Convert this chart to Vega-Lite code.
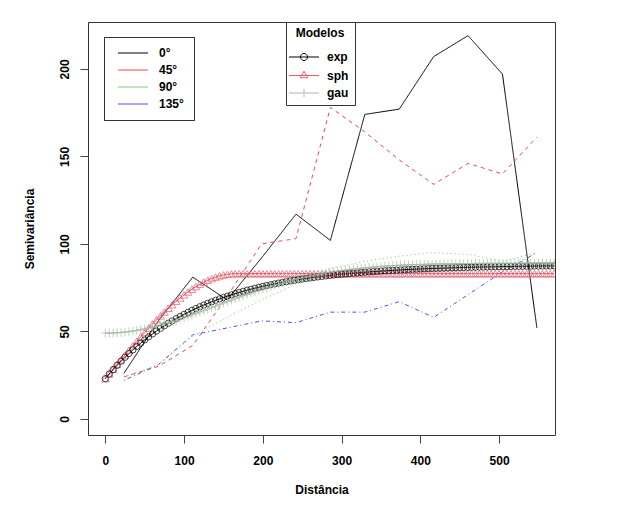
{
"$schema":"https://vega.github.io/schema/vega-lite/v6.json",
"width":467,"height":413,
"autosize":{"type":"none"},
"padding":{"left":88,"top":22,"right":65,"bottom":82},
"background":"white",
"config":{
 "view":{"stroke":"#333","strokeWidth":1},
 "font":"Liberation Sans",
 "axis":{"grid":false,"domain":false,"ticks":true,"tickColor":"#444","tickSize":8,"labelFont":"Liberation Sans","labelFontSize":12,"labelFontWeight":"bold","labelColor":"#000","titleFont":"Liberation Sans","titleFontSize":12,"titleFontWeight":"bold","titleColor":"#000"},
 "legend":{"labelFont":"Liberation Sans","labelFontSize":12,"labelFontWeight":"bold","labelColor":"#000","titleFont":"Liberation Sans","titleFontSize":12,"titleFontWeight":"bold","titleColor":"#000"}
},
"datasets":{
"dirs":[
{"dir":"0°","d":23.6,"g":26},{"dir":"0°","d":67.3,"g":56},{"dir":"0°","d":111.0,"g":81},{"dir":"0°","d":154.7,"g":68},{"dir":"0°","d":198.4,"g":92},{"dir":"0°","d":242.1,"g":117},{"dir":"0°","d":285.8,"g":102},{"dir":"0°","d":329.5,"g":174},{"dir":"0°","d":373.2,"g":177},{"dir":"0°","d":416.9,"g":207},{"dir":"0°","d":460.6,"g":219},{"dir":"0°","d":504.3,"g":197},{"dir":"0°","d":548.0,"g":52},
{"dir":"45°","d":23.6,"g":24},{"dir":"45°","d":67.3,"g":30},{"dir":"45°","d":111.0,"g":42},{"dir":"45°","d":154.7,"g":70},{"dir":"45°","d":198.4,"g":100},{"dir":"45°","d":242.1,"g":103},{"dir":"45°","d":285.8,"g":178},{"dir":"45°","d":329.5,"g":164},{"dir":"45°","d":373.2,"g":148},{"dir":"45°","d":416.9,"g":134},{"dir":"45°","d":460.6,"g":146},{"dir":"45°","d":504.3,"g":140},{"dir":"45°","d":548.0,"g":161},
{"dir":"90°","d":23.6,"g":24},{"dir":"90°","d":67.3,"g":31},{"dir":"90°","d":111.0,"g":47},{"dir":"90°","d":154.7,"g":58},{"dir":"90°","d":198.4,"g":68},{"dir":"90°","d":242.1,"g":77},{"dir":"90°","d":285.8,"g":86},{"dir":"90°","d":329.5,"g":90},{"dir":"90°","d":373.2,"g":93},{"dir":"90°","d":416.9,"g":95},{"dir":"90°","d":460.6,"g":94},{"dir":"90°","d":504.3,"g":90},{"dir":"90°","d":548.0,"g":95},
{"dir":"135°","d":23.6,"g":22},{"dir":"135°","d":67.3,"g":31},{"dir":"135°","d":111.0,"g":48},{"dir":"135°","d":154.7,"g":52},{"dir":"135°","d":198.4,"g":56},{"dir":"135°","d":242.1,"g":55},{"dir":"135°","d":285.8,"g":61},{"dir":"135°","d":329.5,"g":61},{"dir":"135°","d":373.2,"g":67},{"dir":"135°","d":416.9,"g":58},{"dir":"135°","d":460.6,"g":71},{"dir":"135°","d":504.3,"g":84},{"dir":"135°","d":548.0,"g":95}
],
"models":[
{"m":"sph","d":0,"g":23},{"m":"sph","d":5,"g":25.73},{"m":"sph","d":10,"g":28.45},{"m":"sph","d":15,"g":31.16},{"m":"sph","d":20,"g":33.86},{"m":"sph","d":25,"g":36.53},{"m":"sph","d":30,"g":39.18},{"m":"sph","d":35,"g":41.8},{"m":"sph","d":40,"g":44.39},{"m":"sph","d":45,"g":46.94},{"m":"sph","d":50,"g":49.44},{"m":"sph","d":55,"g":51.89},{"m":"sph","d":60,"g":54.28},{"m":"sph","d":65,"g":56.62},{"m":"sph","d":70,"g":58.89},{"m":"sph","d":75,"g":61.09},{"m":"sph","d":80,"g":63.22},{"m":"sph","d":85,"g":65.26},{"m":"sph","d":90,"g":67.22},{"m":"sph","d":95,"g":69.09},{"m":"sph","d":100,"g":70.87},{"m":"sph","d":105,"g":72.54},{"m":"sph","d":110,"g":74.11},{"m":"sph","d":115,"g":75.57},{"m":"sph","d":120,"g":76.91},{"m":"sph","d":125,"g":78.14},{"m":"sph","d":130,"g":79.24},{"m":"sph","d":135,"g":80.2},{"m":"sph","d":140,"g":81.04},{"m":"sph","d":145,"g":81.73},{"m":"sph","d":150,"g":82.28},{"m":"sph","d":155,"g":82.68},{"m":"sph","d":160,"g":82.92},{"m":"sph","d":165,"g":83},{"m":"sph","d":170,"g":83},{"m":"sph","d":175,"g":83},{"m":"sph","d":180,"g":83},{"m":"sph","d":185,"g":83},{"m":"sph","d":190,"g":83},{"m":"sph","d":195,"g":83},{"m":"sph","d":200,"g":83},{"m":"sph","d":205,"g":83},{"m":"sph","d":210,"g":83},{"m":"sph","d":215,"g":83},{"m":"sph","d":220,"g":83},{"m":"sph","d":225,"g":83},{"m":"sph","d":230,"g":83},{"m":"sph","d":235,"g":83},{"m":"sph","d":240,"g":83},{"m":"sph","d":245,"g":83},{"m":"sph","d":250,"g":83},{"m":"sph","d":255,"g":83},{"m":"sph","d":260,"g":83},{"m":"sph","d":265,"g":83},{"m":"sph","d":270,"g":83},{"m":"sph","d":275,"g":83},{"m":"sph","d":280,"g":83},{"m":"sph","d":285,"g":83},{"m":"sph","d":290,"g":83},{"m":"sph","d":295,"g":83},{"m":"sph","d":300,"g":83},{"m":"sph","d":305,"g":83},{"m":"sph","d":310,"g":83},{"m":"sph","d":315,"g":83},{"m":"sph","d":320,"g":83},{"m":"sph","d":325,"g":83},{"m":"sph","d":330,"g":83},{"m":"sph","d":335,"g":83},{"m":"sph","d":340,"g":83},{"m":"sph","d":345,"g":83},{"m":"sph","d":350,"g":83},{"m":"sph","d":355,"g":83},{"m":"sph","d":360,"g":83},{"m":"sph","d":365,"g":83},{"m":"sph","d":370,"g":83},{"m":"sph","d":375,"g":83},{"m":"sph","d":380,"g":83},{"m":"sph","d":385,"g":83},{"m":"sph","d":390,"g":83},{"m":"sph","d":395,"g":83},{"m":"sph","d":400,"g":83},{"m":"sph","d":405,"g":83},{"m":"sph","d":410,"g":83},{"m":"sph","d":415,"g":83},{"m":"sph","d":420,"g":83},{"m":"sph","d":425,"g":83},{"m":"sph","d":430,"g":83},{"m":"sph","d":435,"g":83},{"m":"sph","d":440,"g":83},{"m":"sph","d":445,"g":83},{"m":"sph","d":450,"g":83},{"m":"sph","d":455,"g":83},{"m":"sph","d":460,"g":83},{"m":"sph","d":465,"g":83},{"m":"sph","d":470,"g":83},{"m":"sph","d":475,"g":83},{"m":"sph","d":480,"g":83},{"m":"sph","d":485,"g":83},{"m":"sph","d":490,"g":83},{"m":"sph","d":495,"g":83},{"m":"sph","d":500,"g":83},{"m":"sph","d":505,"g":83},{"m":"sph","d":510,"g":83},{"m":"sph","d":515,"g":83},{"m":"sph","d":520,"g":83},{"m":"sph","d":525,"g":83},{"m":"sph","d":530,"g":83},{"m":"sph","d":535,"g":83},{"m":"sph","d":540,"g":83},{"m":"sph","d":545,"g":83},{"m":"sph","d":550,"g":83},{"m":"sph","d":555,"g":83},{"m":"sph","d":560,"g":83},{"m":"sph","d":565,"g":83},{"m":"sph","d":570,"g":83},
{"m":"exp","d":0,"g":23},{"m":"exp","d":5,"g":25.65},{"m":"exp","d":10,"g":28.2},{"m":"exp","d":15,"g":30.64},{"m":"exp","d":20,"g":32.98},{"m":"exp","d":25,"g":35.23},{"m":"exp","d":30,"g":37.38},{"m":"exp","d":35,"g":39.44},{"m":"exp","d":40,"g":41.43},{"m":"exp","d":45,"g":43.33},{"m":"exp","d":50,"g":45.15},{"m":"exp","d":55,"g":46.9},{"m":"exp","d":60,"g":48.58},{"m":"exp","d":65,"g":50.18},{"m":"exp","d":70,"g":51.73},{"m":"exp","d":75,"g":53.21},{"m":"exp","d":80,"g":54.63},{"m":"exp","d":85,"g":55.99},{"m":"exp","d":90,"g":57.29},{"m":"exp","d":95,"g":58.55},{"m":"exp","d":100,"g":59.75},{"m":"exp","d":105,"g":60.9},{"m":"exp","d":110,"g":62.01},{"m":"exp","d":115,"g":63.07},{"m":"exp","d":120,"g":64.09},{"m":"exp","d":125,"g":65.06},{"m":"exp","d":130,"g":66},{"m":"exp","d":135,"g":66.89},{"m":"exp","d":140,"g":67.76},{"m":"exp","d":145,"g":68.58},{"m":"exp","d":150,"g":69.38},{"m":"exp","d":155,"g":70.14},{"m":"exp","d":160,"g":70.87},{"m":"exp","d":165,"g":71.57},{"m":"exp","d":170,"g":72.24},{"m":"exp","d":175,"g":72.88},{"m":"exp","d":180,"g":73.5},{"m":"exp","d":185,"g":74.09},{"m":"exp","d":190,"g":74.66},{"m":"exp","d":195,"g":75.2},{"m":"exp","d":200,"g":75.72},{"m":"exp","d":205,"g":76.22},{"m":"exp","d":210,"g":76.7},{"m":"exp","d":215,"g":77.16},{"m":"exp","d":220,"g":77.61},{"m":"exp","d":225,"g":78.03},{"m":"exp","d":230,"g":78.44},{"m":"exp","d":235,"g":78.83},{"m":"exp","d":240,"g":79.2},{"m":"exp","d":245,"g":79.56},{"m":"exp","d":250,"g":79.91},{"m":"exp","d":255,"g":80.24},{"m":"exp","d":260,"g":80.55},{"m":"exp","d":265,"g":80.86},{"m":"exp","d":270,"g":81.15},{"m":"exp","d":275,"g":81.43},{"m":"exp","d":280,"g":81.7},{"m":"exp","d":285,"g":81.95},{"m":"exp","d":290,"g":82.2},{"m":"exp","d":295,"g":82.44},{"m":"exp","d":300,"g":82.66},{"m":"exp","d":305,"g":82.88},{"m":"exp","d":310,"g":83.09},{"m":"exp","d":315,"g":83.29},{"m":"exp","d":320,"g":83.48},{"m":"exp","d":325,"g":83.67},{"m":"exp","d":330,"g":83.85},{"m":"exp","d":335,"g":84.02},{"m":"exp","d":340,"g":84.18},{"m":"exp","d":345,"g":84.33},{"m":"exp","d":350,"g":84.48},{"m":"exp","d":355,"g":84.63},{"m":"exp","d":360,"g":84.76},{"m":"exp","d":365,"g":84.89},{"m":"exp","d":370,"g":85.02},{"m":"exp","d":375,"g":85.15},{"m":"exp","d":380,"g":85.26},{"m":"exp","d":385,"g":85.37},{"m":"exp","d":390,"g":85.48},{"m":"exp","d":395,"g":85.58},{"m":"exp","d":400,"g":85.68},{"m":"exp","d":405,"g":85.78},{"m":"exp","d":410,"g":85.87},{"m":"exp","d":415,"g":85.95},{"m":"exp","d":420,"g":86.04},{"m":"exp","d":425,"g":86.12},{"m":"exp","d":430,"g":86.19},{"m":"exp","d":435,"g":86.27},{"m":"exp","d":440,"g":86.34},{"m":"exp","d":445,"g":86.41},{"m":"exp","d":450,"g":86.47},{"m":"exp","d":455,"g":86.53},{"m":"exp","d":460,"g":86.59},{"m":"exp","d":465,"g":86.65},{"m":"exp","d":470,"g":86.71},{"m":"exp","d":475,"g":86.76},{"m":"exp","d":480,"g":86.81},{"m":"exp","d":485,"g":86.86},{"m":"exp","d":490,"g":86.9},{"m":"exp","d":495,"g":86.95},{"m":"exp","d":500,"g":86.99},{"m":"exp","d":505,"g":87.03},{"m":"exp","d":510,"g":87.07},{"m":"exp","d":515,"g":87.11},{"m":"exp","d":520,"g":87.15},{"m":"exp","d":525,"g":87.18},{"m":"exp","d":530,"g":87.21},{"m":"exp","d":535,"g":87.25},{"m":"exp","d":540,"g":87.28},{"m":"exp","d":545,"g":87.31},{"m":"exp","d":550,"g":87.34},{"m":"exp","d":555,"g":87.36},{"m":"exp","d":560,"g":87.39},{"m":"exp","d":565,"g":87.41},{"m":"exp","d":570,"g":87.43},
{"m":"gau","d":0,"g":49},{"m":"gau","d":5,"g":49.03},{"m":"gau","d":10,"g":49.1},{"m":"gau","d":15,"g":49.22},{"m":"gau","d":20,"g":49.4},{"m":"gau","d":25,"g":49.62},{"m":"gau","d":30,"g":49.89},{"m":"gau","d":35,"g":50.21},{"m":"gau","d":40,"g":50.57},{"m":"gau","d":45,"g":50.97},{"m":"gau","d":50,"g":51.42},{"m":"gau","d":55,"g":51.91},{"m":"gau","d":60,"g":52.44},{"m":"gau","d":65,"g":53.01},{"m":"gau","d":70,"g":53.61},{"m":"gau","d":75,"g":54.25},{"m":"gau","d":80,"g":54.91},{"m":"gau","d":85,"g":55.61},{"m":"gau","d":90,"g":56.33},{"m":"gau","d":95,"g":57.08},{"m":"gau","d":100,"g":57.85},{"m":"gau","d":105,"g":58.64},{"m":"gau","d":110,"g":59.44},{"m":"gau","d":115,"g":60.26},{"m":"gau","d":120,"g":61.09},{"m":"gau","d":125,"g":61.94},{"m":"gau","d":130,"g":62.79},{"m":"gau","d":135,"g":63.64},{"m":"gau","d":140,"g":64.5},{"m":"gau","d":145,"g":65.35},{"m":"gau","d":150,"g":66.21},{"m":"gau","d":155,"g":67.06},{"m":"gau","d":160,"g":67.91},{"m":"gau","d":165,"g":68.75},{"m":"gau","d":170,"g":69.58},{"m":"gau","d":175,"g":70.4},{"m":"gau","d":180,"g":71.21},{"m":"gau","d":185,"g":72},{"m":"gau","d":190,"g":72.78},{"m":"gau","d":195,"g":73.54},{"m":"gau","d":200,"g":74.28},{"m":"gau","d":205,"g":75.01},{"m":"gau","d":210,"g":75.72},{"m":"gau","d":215,"g":76.4},{"m":"gau","d":220,"g":77.07},{"m":"gau","d":225,"g":77.72},{"m":"gau","d":230,"g":78.35},{"m":"gau","d":235,"g":78.94},{"m":"gau","d":240,"g":79.52},{"m":"gau","d":245,"g":80.08},{"m":"gau","d":250,"g":80.62},{"m":"gau","d":255,"g":81.13},{"m":"gau","d":260,"g":81.62},{"m":"gau","d":265,"g":82.09},{"m":"gau","d":270,"g":82.54},{"m":"gau","d":275,"g":82.96},{"m":"gau","d":280,"g":83.37},{"m":"gau","d":285,"g":83.75},{"m":"gau","d":290,"g":84.12},{"m":"gau","d":295,"g":84.46},{"m":"gau","d":300,"g":84.78},{"m":"gau","d":305,"g":85.09},{"m":"gau","d":310,"g":85.38},{"m":"gau","d":315,"g":85.65},{"m":"gau","d":320,"g":85.91},{"m":"gau","d":325,"g":86.15},{"m":"gau","d":330,"g":86.37},{"m":"gau","d":335,"g":86.58},{"m":"gau","d":340,"g":86.78},{"m":"gau","d":345,"g":86.96},{"m":"gau","d":350,"g":87.13},{"m":"gau","d":355,"g":87.29},{"m":"gau","d":360,"g":87.43},{"m":"gau","d":365,"g":87.57},{"m":"gau","d":370,"g":87.7},{"m":"gau","d":375,"g":87.81},{"m":"gau","d":380,"g":87.92},{"m":"gau","d":385,"g":88.02},{"m":"gau","d":390,"g":88.11},{"m":"gau","d":395,"g":88.19},{"m":"gau","d":400,"g":88.27},{"m":"gau","d":405,"g":88.34},{"m":"gau","d":410,"g":88.4},{"m":"gau","d":415,"g":88.46},{"m":"gau","d":420,"g":88.51},{"m":"gau","d":425,"g":88.56},{"m":"gau","d":430,"g":88.61},{"m":"gau","d":435,"g":88.65},{"m":"gau","d":440,"g":88.68},{"m":"gau","d":445,"g":88.72},{"m":"gau","d":450,"g":88.75},{"m":"gau","d":455,"g":88.77},{"m":"gau","d":460,"g":88.8},{"m":"gau","d":465,"g":88.82},{"m":"gau","d":470,"g":88.84},{"m":"gau","d":475,"g":88.86},{"m":"gau","d":480,"g":88.87},{"m":"gau","d":485,"g":88.89},{"m":"gau","d":490,"g":88.9},{"m":"gau","d":495,"g":88.91},{"m":"gau","d":500,"g":88.92},{"m":"gau","d":505,"g":88.93},{"m":"gau","d":510,"g":88.94},{"m":"gau","d":515,"g":88.94},{"m":"gau","d":520,"g":88.95},{"m":"gau","d":525,"g":88.95},{"m":"gau","d":530,"g":88.96},{"m":"gau","d":535,"g":88.96},{"m":"gau","d":540,"g":88.97},{"m":"gau","d":545,"g":88.97},{"m":"gau","d":550,"g":88.97},{"m":"gau","d":555,"g":88.98},{"m":"gau","d":560,"g":88.98},{"m":"gau","d":565,"g":88.98},{"m":"gau","d":570,"g":88.99}
]
},
"encoding":{
 "x":{"field":"d","type":"quantitative","scale":{"domain":[-22,571],"nice":false,"zero":false},"axis":{"values":[0,100,200,300,400,500],"title":"Distância","labelPadding":12,"titlePadding":18,"labelFlush":false}},
 "y":{"field":"g","type":"quantitative","scale":{"domain":[-9.2,226.8],"nice":false,"zero":false},"axis":{"values":[0,50,100,150,200],"title":"Semivariância","labelAngle":270,"labelAlign":"center","labelBaseline":"bottom","labelPadding":9,"titlePadding":22}}
},
"layer":[
 {"data":{"name":"dirs"},"mark":{"type":"line","strokeWidth":1,"clip":true},
  "encoding":{
   "color":{"field":"dir","type":"nominal","scale":{"domain":["0°","45°","90°","135°"],"range":["#000000","#f04848","#78d078","#5050f0"]},
     "legend":{"orient":"none","legendX":16,"legendY":15,"title":null,"strokeColor":"#333","fillColor":"white","padding":10,"symbolType":"M-3,0L3,0","symbolSize":100,"symbolStrokeWidth":1,"symbolOffset":13,"labelOffset":20,"rowPadding":5}},
   "strokeDash":{"field":"dir","type":"nominal","scale":{"domain":["0°","45°","90°","135°"],"range":[[1,0],[4,4],[1,3],[1,3,4,3]]},
     "legend":{"orient":"none","legendX":16,"legendY":15,"title":null,"strokeColor":"#333","fillColor":"white","padding":10,"symbolType":"M-3,0L3,0","symbolSize":100,"symbolStrokeWidth":1,"symbolOffset":13,"labelOffset":20,"rowPadding":5}}
  }},
 {"data":{"name":"models"},
  "layer":[
   {"mark":{"type":"line","strokeWidth":1,"clip":true},
    "encoding":{"color":{"field":"m","type":"nominal","scale":{"domain":["exp","sph","gau"],"range":["#000000","#e05a6a","#a8bca8"]},
      "legend":{"orient":"none","legendX":198,"legendY":0,"title":"Modelos","titleAnchor":"middle","titlePadding":11,"strokeColor":"#333","fillColor":"white","padding":6,"symbolSize":100,"symbolStrokeWidth":1,"symbolOffset":6,"labelOffset":17,"rowPadding":5.5,
       "encode":{"symbols":{"update":{"shape":{"signal":"datum.value === 'exp' ? 'M-3,0L3,0M0.7,0A0.7,0.7 0 1 1 -0.7,0A0.7,0.7 0 1 1 0.7,0' : datum.value === 'sph' ? 'M-3,0L3,0M0,-0.85L0.75,0.45L-0.75,0.45Z' : 'M-3,0L3,0M0,-0.8L0,0.8'"},"fill":{"value":"transparent"}}}}}}}},
   {"mark":{"type":"point","filled":false,"strokeWidth":1,"clip":true},
    "encoding":{
     "color":{"field":"m","type":"nominal","scale":{"domain":["exp","sph","gau"],"range":["#000000","#e05a6a","#a8bca8"]},
      "legend":{"orient":"none","legendX":198,"legendY":0,"title":"Modelos","titleAnchor":"middle","titlePadding":11,"strokeColor":"#333","fillColor":"white","padding":6,"symbolSize":100,"symbolStrokeWidth":1,"symbolOffset":6,"labelOffset":17,"rowPadding":5.5,
       "encode":{"symbols":{"update":{"shape":{"signal":"datum.value === 'exp' ? 'M-3,0L3,0M0.7,0A0.7,0.7 0 1 1 -0.7,0A0.7,0.7 0 1 1 0.7,0' : datum.value === 'sph' ? 'M-3,0L3,0M0,-0.85L0.75,0.45L-0.75,0.45Z' : 'M-3,0L3,0M0,-0.8L0,0.8'"},"fill":{"value":"transparent"}}}}}},
     "shape":{"field":"m","type":"nominal","scale":{"domain":["exp","sph","gau"],"range":["circle","triangle-up","M-1,0L1,0M0,-1L0,1"]},
      "legend":{"orient":"none","legendX":198,"legendY":0,"title":"Modelos","titleAnchor":"middle","titlePadding":11,"strokeColor":"#333","fillColor":"white","padding":6,"symbolSize":100,"symbolStrokeWidth":1,"symbolOffset":6,"labelOffset":17,"rowPadding":5.5,
       "encode":{"symbols":{"update":{"shape":{"signal":"datum.value === 'exp' ? 'M-3,0L3,0M0.7,0A0.7,0.7 0 1 1 -0.7,0A0.7,0.7 0 1 1 0.7,0' : datum.value === 'sph' ? 'M-3,0L3,0M0,-0.85L0.75,0.45L-0.75,0.45Z' : 'M-3,0L3,0M0,-0.8L0,0.8'"},"fill":{"value":"transparent"}}}}}},
     "size":{"field":"m","type":"nominal","scale":{"domain":["exp","sph","gau"],"range":[40,75,50]},"legend":null}
    }}
  ]}
],
"resolve":{"scale":{"color":"independent"},"legend":{"color":"independent"}}
}
